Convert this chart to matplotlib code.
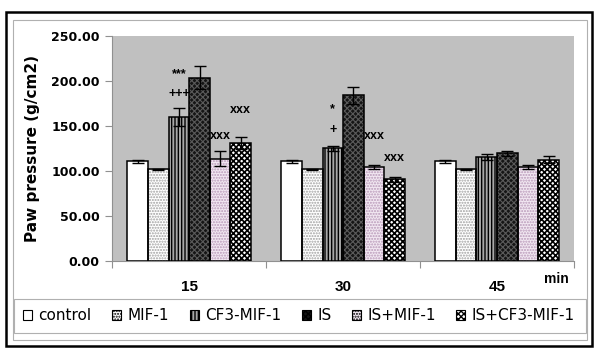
import matplotlib.pyplot as plt
import numpy as np
from matplotlib.patches import Rectangle, Patch

# data
times = ['15', '30', '45']
series = ['control', 'MIF-1', 'CF3-MIF-1', 'IS', 'IS+MIF-1', 'IS+CF3-MIF-1']
values = [
    [110.3, 110.3, 110.3],   # control
    [101.4, 101.5, 101.5],   # MIF-1
    [159.6, 124.8, 115.1],   # CF3-MIF-1
    [203.3, 183.7, 119.2],   # IS
    [113.2, 104.0, 104.0],   # IS+MIF-1
    [130.3, 90.3, 112.1],    # IS+CF3-MIF-1
]
errors = [
    [1.5, 1.5, 1.5],
    [0.5, 0.5, 0.5],
    [10.0, 3.0, 3.0],
    [12.5, 9.5, 3.0],
    [8.5, 2.5, 2.5],
    [6.5, 3.0, 4.0],
]
# significance marks: (text, time index, series index, y)
annot_text = ['***', '+++', 'xxx', 'xxx', '*', '+', 'xxx', 'xxx']
annot_time = [0, 0, 0, 0, 1, 1, 1, 1]
annot_series = [2, 2, 4, 5, 2, 2, 4, 5]
annot_y = [207, 185, 138, 167, 168, 145, 138, 114]

# styles
faces = ['white', 'white', '#a8a8a8', '#151515', '#f2e8f2', 'white']
hatch_cols = ['black', '#a0a0a0', 'black', '#5a5a5a', '#b898b8', 'black']
hatches = [None, '......', '|||||', 'xxxxxx', '......', 'xxxxxx']
hatch_lws = [1.0, 1.0, 1.0, 0.8, 1.0, 1.2]


def set_hlw(p, lw):
    if hasattr(p, 'set_hatch_linewidth'):
        p.set_hatch_linewidth(lw)


fig = plt.figure(figsize=(6, 3.5), dpi=100)
ax = fig.add_axes([112.3 / 600, 1 - 260.5 / 350, (574 - 112.3) / 600, (260.5 - 35.7) / 350])
ax.set_facecolor('#c0c0c0')

x = np.arange(len(times))
n = len(series)
w = 0.804 / n
for i in range(n):
    pos = x + (i - (n - 1) / 2) * w
    with plt.rc_context({'hatch.linewidth': hatch_lws[i]}):
        b = ax.bar(pos, values[i], w, color=faces[i], edgecolor=hatch_cols[i],
                   hatch=hatches[i], linewidth=0, zorder=2)
    for p in b:
        set_hlw(p, hatch_lws[i])
    ax.bar(pos, values[i], w, fill=False, edgecolor='black', linewidth=1.1, zorder=3)
    ax.errorbar(pos, values[i], yerr=errors[i], fmt='none', ecolor='black',
                elinewidth=1, capsize=4.5, capthick=1, zorder=4)

for t, g, s, yv in zip(annot_text, annot_time, annot_series, annot_y):
    xp = x[g] + (s - (n - 1) / 2) * w
    ax.text(xp, yv, t, ha='center', va='center', fontsize=9, fontweight='bold',
            family='Liberation Sans', zorder=5)

ax.set_xlim(-0.5, 2.5)
ax.set_ylim(0, 250)
ax.set_yticks(np.arange(0, 251, 50))
ax.set_yticklabels([f'{v:.2f}' for v in np.arange(0, 251, 50)], fontsize=9, fontweight='bold')
ax.set_xticks([-0.5, 0.5, 1.5, 2.5])
ax.set_xticklabels([])
ax.set_xticks(x, minor=True)
ax.set_xticklabels(times, minor=True, fontsize=11, fontweight='bold', family='Liberation Sans')
ax.tick_params(axis='x', which='minor', length=0, pad=14)
ax.tick_params(axis='x', which='major', length=5, color='#909090', direction='out')
ax.tick_params(axis='y', length=5, color='#909090', pad=4)
for s in ['top', 'right']:
    ax.spines[s].set_visible(False)
ax.spines['left'].set_color('#909090')
ax.spines['bottom'].set_color('#909090')
ax.set_ylabel('Paw pressure (g/cm2)', fontsize=11, fontweight='bold', labelpad=8)

fig.text(556 / 600, 1 - 279 / 350, 'min', ha='center', va='center', fontsize=10,
         fontweight='bold', family='Liberation Sans')

# legend
handles = []
for i in range(n):
    with plt.rc_context({'hatch.linewidth': min(hatch_lws[i], 1.0)}):
        h = Patch(facecolor=faces[i], edgecolor='black', hatch=hatches[i], linewidth=0.8)
    set_hlw(h, min(hatch_lws[i], 1.0))
    handles.append(h)
fig.legend(handles, series, loc='center', bbox_to_anchor=(299 / 600, 1 - 316 / 350),
           ncol=6, frameon=False, fontsize=11, handlelength=0.6, handleheight=0.6,
           handletextpad=0.4, columnspacing=1.35)

# frames
fig.add_artist(Rectangle((14 / 600, 1 - 333 / 350), 572 / 600, 34 / 350,
                         transform=fig.transFigure, fill=False, ec='#b0b0b0', lw=0.8))
fig.add_artist(Rectangle((12.5 / 600, 1 - 340 / 350), 574 / 600, 320 / 350,
                         transform=fig.transFigure, fill=False, ec='#b0b0b0', lw=0.8))
fig.add_artist(Rectangle((6 / 600, 1 - 346 / 350), 586 / 600, 334 / 350,
                         transform=fig.transFigure, fill=False, ec='black', lw=1.8))

fig.savefig('out.png', dpi=100)
